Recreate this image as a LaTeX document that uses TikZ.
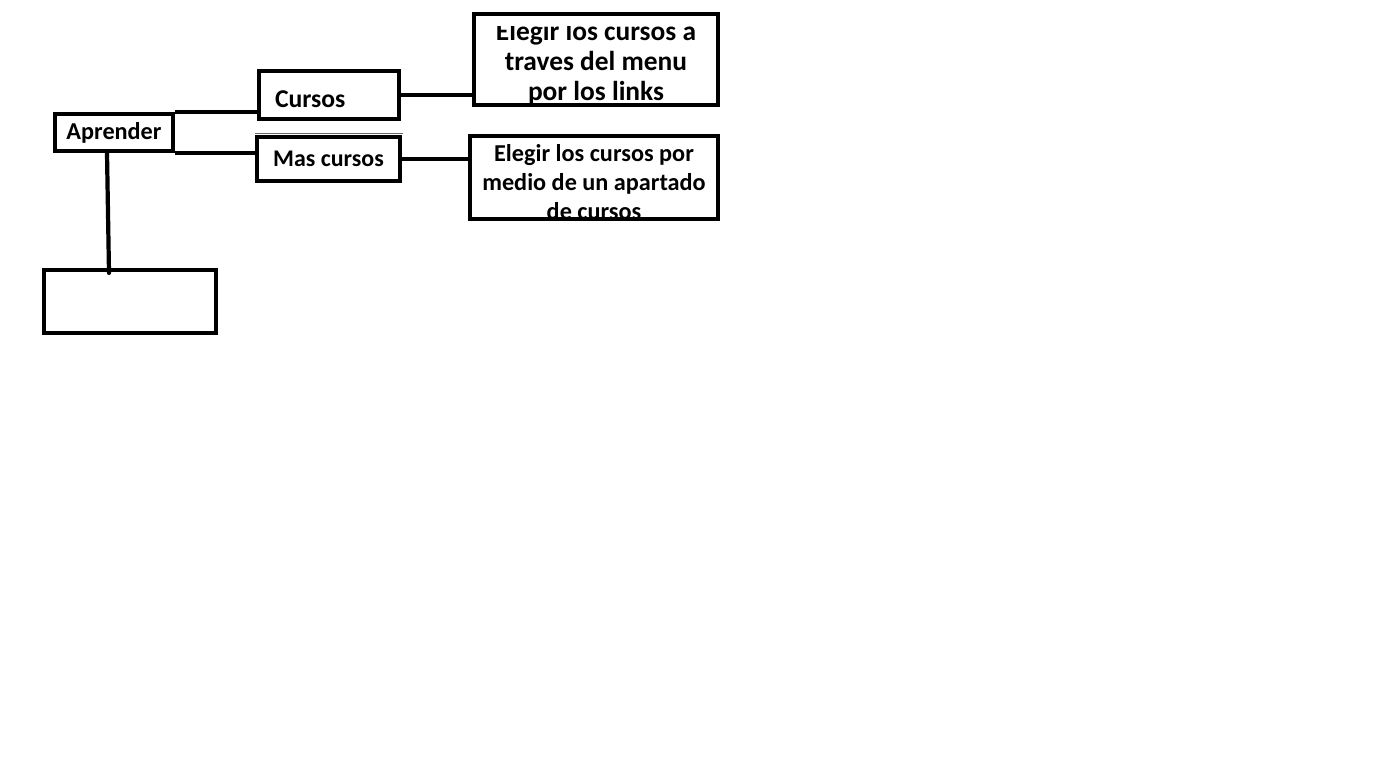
\documentclass[tikz,border=0pt]{standalone}
\usepackage{fontspec}
\setmainfont{Carlito}
\usetikzlibrary{positioning,calc}

\begin{document}
\begin{tikzpicture}
            [x=0.02cm, y=-0.02cm,
            line width=2.4pt,
            every node/.style={font=\bfseries},
            box/.style={draw,rectangle,inner sep=0pt,line width=2.4pt}
            ]
            \fill[white] (0,0) rectangle (1398,764);
            \useasboundingbox (0,0) rectangle (1398,764);
            \node[box,minimum width=2.36cm,minimum height=0.74cm,font=\fontsize{13.8}{16}\bfseries] (A) at (114,132.5) {Aprender};
            \node[box,minimum width=2.80cm,minimum height=0.96cm,text width=2.16cm,inner xsep=0.32cm,align=left,text height=14.5pt,text depth=0pt,font=\fontsize{14.6}{17}\bfseries] (C) at (329,95) {Cursos};
            \node[box,minimum width=2.86cm,minimum height=0.88cm,font=\fontsize{13.6}{16}\bfseries] (M) at (328.5,159) {Mas cursos};
            \node[box,minimum width=4.88cm,minimum height=1.82cm] (E1) at (596,59.5) {};
            \node[box,minimum width=4.96cm,minimum height=1.66cm] (E2) at (594,177.5) {};
            \node[box,minimum width=3.44cm,minimum height=1.26cm] (B) at (130,301.5) {};
            % texts cut by the boxes
            \begin{scope}
              \clip ([yshift=-0.30cm]E1.north west) rectangle (E1.south east);
              \node[align=center,font=\fontsize{15.6}{17}\bfseries] (E1t) at ([yshift=-0.07cm]E1.center) {Elegir los cursos a\\traves del menu\\por los links};
            \end{scope}
            \begin{scope}
              \clip (E2.north west) rectangle ([yshift=0.04cm]E2.south east);
              \node[align=center,font=\fontsize{13.8}{16.4}\bfseries] (E2t) at ([yshift=-0.09cm]E2.center) {Elegir los cursos por\\medio de un apartado\\de cursos};
            \end{scope}
            \draw (A.north east) -- (A.north east -| C.west);
            \draw (A.south east) -- (A.south east -| M.west);
            \draw (C.east) -- (C.east -| E1.west);
            \draw (M.east) -- (M.east -| E2.west);
            \draw[line cap=round] ([xshift=-0.14cm]A.south) -- ([xshift=-0.42cm,yshift=-0.10cm]B.north);
            \draw[line width=0.6pt,black!60] ([xshift=-0.04cm,yshift=-0.24cm]C.south west) -- ([xshift=0.04cm,yshift=-0.24cm]C.south east);
          \end{tikzpicture}
\end{document}
